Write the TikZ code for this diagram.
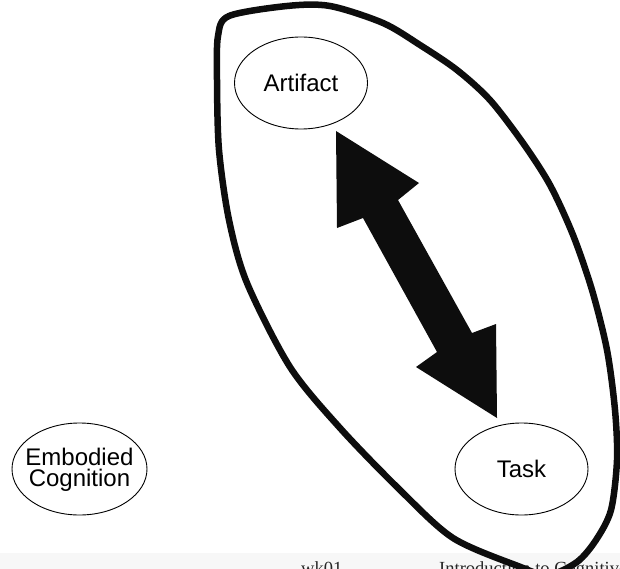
\documentclass[tikz,border=0pt]{standalone}
\usepackage{fontspec}
\setmainfont{Liberation Sans}
\newfontfamily\footfont{Liberation Serif}
\usetikzlibrary{shapes.geometric}

\begin{document}
\begin{tikzpicture}[x=1pt,y=-1pt,
  bubble/.style={draw=black, line width=0.9pt, ellipse, inner sep=0pt,
    minimum width=133pt, minimum height=92pt},
  bubbletext/.style={inner sep=0pt, align=center,
    font=\fontsize{24}{21.5}\selectfont},
  foottext/.style={anchor=base west, inner sep=0pt, text=black!85,
    font=\footfont\fontsize{18.5}{18.5}\selectfont},
  bigarrow/.style={fill=black!95, draw=none},
  hull/.style={draw=black!95, line width=6.5pt, line join=round}]
\useasboundingbox (0,0) rectangle (620,569);
\clip (0,0) rectangle (620,569);

% footer band with slide caption
\fill[black!3] (0,553) rectangle (620,569);
\node[foottext] (wk) at (301,574) {wk01};
\node[foottext] (title) at (439,574) {Introduction to Cognitive};

% concept bubbles
\node[bubble] (artifact) at (301,83) {};
\node[bubbletext] (artifacttext) at (artifact) {Artifact};
\node[bubble] (task) at (521.5,469) {};
\node[bubbletext] (tasktext) at (task) {Task};
\node[bubble, minimum width=135pt] (embodied) at (79.5,469) {};
\node[bubbletext] (embodiedtext) at ([yshift=-1]embodied.center) {Embodied\\Cognition};

% double-headed block arrow between Artifact and Task
\coordinate (tipA) at (336,131);
\coordinate (tipB) at (497,418);
\fill[bigarrow] (tipA) -- (337,228) -- (363,218) -- (437,352) -- (416,367)
  -- (tipB) -- (496,324) -- (472,333) -- (398,200) -- (419,183) -- cycle;

% hand-drawn loop around Artifact and Task
\draw[hull] plot[smooth cycle, tension=0.5] coordinates {
  (229,16) (287,6) (330,6) (383,23) (420,45) (457,70) (490,100) (523,143)
  (550,185) (573,235) (592,290) (607,350) (615,410) (617,460) (611,510)
  (596,540) (577,562) (548,575) (518,566) (453,538) (400,490) (340,428)
  (290,367) (247,283) (229,220) (219,150) (217,80) (218,36)};
\end{tikzpicture}
\end{document}
